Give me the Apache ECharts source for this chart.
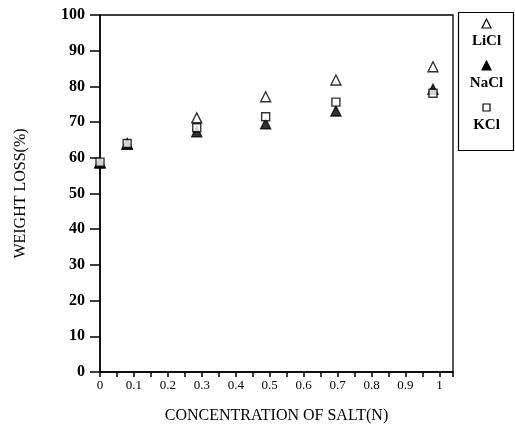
<!DOCTYPE html>
<html>
<head>
<meta charset="utf-8">
<script src="https://cdn.jsdelivr.net/npm/echarts@6/dist/echarts.min.js"></script>
<style>
  html, body { margin: 0; padding: 0; background: #fff; }
  #chart { width: 515px; height: 430px; }
</style>
</head>
<body>
<div id="chart"></div>
<script>
// Salt concentration (N) at each measurement
const concentration = [0, 0.08, 0.285, 0.488, 0.695, 0.981];
// Weight loss (%) for each salt
const seriesNames = ['LiCl', 'NaCl', 'KCl'];
const liclLoss = [58.7, 63.9, 71.2, 77.1, 81.8, 85.5];
const naclLoss = [58.5, 63.8, 67.3, 69.5, 73.1, 79.2];
const kclLoss  = [58.8, 64.0, 68.4, 71.5, 75.6, 78.1];
const yTicks = [0, 10, 20, 30, 40, 50, 60, 70, 80, 90, 100];
const xLabelStep = 0.1;

const serif = '"Liberation Serif", "DejaVu Serif", serif';
const pair = (vals) => concentration.map((c, i) => [c, vals[i]]);

const symbols = [
  { symbol: 'triangle', fill: '#fff', size: 10 },
  { symbol: 'triangle', fill: '#000', size: 10 },
  { symbol: 'rect', fill: '#fff', size: 8 }
];
const values = [liclLoss, naclLoss, kclLoss];

const chart = echarts.init(document.getElementById('chart'), null, { renderer: 'canvas' });

// Key box at the right: each marker sits above its salt name
const legendGraphics = [{
  type: 'rect',
  shape: { x: 458.5, y: 12.5, width: 55, height: 138 },
  style: { fill: '#fff', stroke: '#000', lineWidth: 1.2 },
  z: 10
}];
seriesNames.forEach((name, i) => {
  const top = 24 + i * 42;
  const s = symbols[i];
  legendGraphics.push({
    type: s.symbol === 'rect' ? 'rect' : 'polygon',
    shape: s.symbol === 'rect'
      ? { x: 483, y: top - 4, width: 7, height: 7 }
      : { points: [[486.5, top - 5], [482, top + 4], [491, top + 4]] },
    style: { fill: s.fill, stroke: '#000', lineWidth: 1.2 },
    z: 11
  });
  legendGraphics.push({
    type: 'text',
    x: 486.5, y: top + 17,
    style: {
      text: name, font: 'bold 15px ' + serif, fill: '#000',
      align: 'center', verticalAlign: 'middle'
    },
    z: 11
  });
});

chart.setOption({
  backgroundColor: '#fff',
  animation: false,
  grid: {
    left: 100, right: 62, top: 15, bottom: 58,
    show: true, borderColor: '#000', borderWidth: 1.3, backgroundColor: 'transparent'
  },
  xAxis: {
    type: 'value',
    min: 0, max: 1.04, interval: 0.05,
    name: 'CONCENTRATION OF SALT(N)',
    nameLocation: 'middle', nameGap: 36,
    nameTextStyle: { fontFamily: serif, fontSize: 16, color: '#000' },
    axisLine: { lineStyle: { color: '#000', width: 1.5 } },
    axisTick: { inside: false, length: 5, lineStyle: { color: '#000', width: 1.5 } },
    axisLabel: {
      margin: 7, fontFamily: serif, fontSize: 13, color: '#000',
      formatter: (v) => {
        const k = v / xLabelStep;
        if (Math.abs(k - Math.round(k)) > 1e-6 || v > 1.0001) return '';
        return String(Math.round(k) / 10);
      }
    },
    splitLine: { show: false }
  },
  yAxis: {
    type: 'value',
    min: yTicks[0], max: yTicks[yTicks.length - 1], interval: 10,
    name: 'WEIGHT LOSS(%)',
    nameLocation: 'middle', nameGap: 71, nameRotate: 90,
    nameTextStyle: { fontFamily: serif, fontSize: 16, color: '#000' },
    axisLine: { lineStyle: { color: '#000', width: 1.5 } },
    axisTick: { inside: false, length: 10, lineStyle: { color: '#000', width: 1.5 } },
    axisLabel: {
      margin: 15, fontFamily: serif, fontSize: 16, fontWeight: 'bold', color: '#000'
    },
    splitLine: { show: false }
  },
  series: seriesNames.map((name, i) => ({
    name: name,
    type: 'scatter',
    data: pair(values[i]),
    symbol: symbols[i].symbol,
    symbolSize: symbols[i].size,
    itemStyle: { color: symbols[i].fill, borderColor: '#000', borderWidth: 1.4 },
    z: 3 + i
  })),
  graphic: legendGraphics
});
</script>
</body>
</html>
